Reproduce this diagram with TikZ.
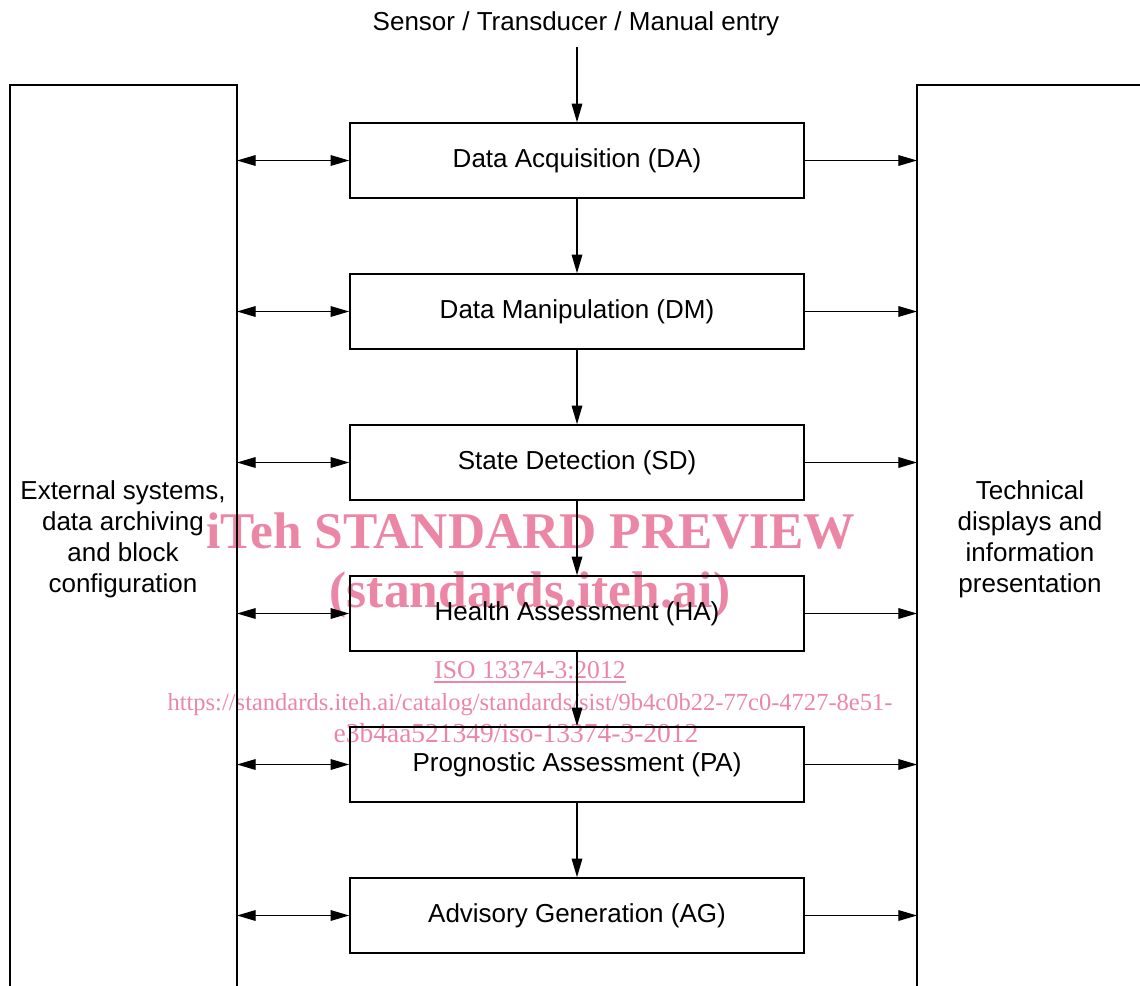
\documentclass[tikz,border=0pt]{standalone}
\usepackage{fontspec}
\setmainfont{Liberation Sans}
\newfontfamily\wmfont{Liberation Serif}
\usepackage{tikz}
\usetikzlibrary{arrows.meta}

\definecolor{wmpink}{RGB}{236,134,166}

\tikzset{
  blktip/.tip={Triangle[length=14pt,width=8pt]},
  blk/.style={draw, line width=1.2pt, minimum width=340.5pt, minimum height=56.25pt, inner sep=0pt, font=\fontsize{19.5}{23}\selectfont},
  lbl/.style={inner sep=0.75pt, font=\fontsize{19.5}{23.25}\selectfont, align=center},
  flow/.style={line width=0.9pt, -blktip},
  wm/.style={inner sep=0pt, text=wmpink},
}

\begin{document}
\begin{tikzpicture}[x=0.75pt,y=0.75pt,yscale=-1,xscale=1]
\useasboundingbox (0,0) rectangle (1140,986);

% watermark text
\node [wm, font=\wmfont\bfseries\fontsize{38.6}{40}\selectfont, anchor=base] (wm1) at (531,548) {iTeh STANDARD PREVIEW};
\node [wm, font=\wmfont\bfseries\fontsize{38.6}{40}\selectfont, anchor=base] (wm2) at (530,607) {(standards.iteh.ai)};
\node [wm, font=\wmfont\fontsize{19.2}{21}\selectfont, anchor=base] (wm3) at (530,678) {ISO 13374-3:2012};
\draw [wmpink, line width=0.9pt] ([yshift=3pt]wm3.base west) -- ([yshift=3pt]wm3.base east);
\node [wm, font=\wmfont\fontsize{18.4}{21}\selectfont, anchor=base] (wm4) at (530,710) {https://standards.iteh.ai/catalog/standards/sist/9b4c0b22-77c0-4727-8e51-};
\node [wm, font=\wmfont\fontsize{20.6}{21}\selectfont, anchor=base] (wm5) at (516,742) {e3b4aa521349/iso-13374-3-2012};

% side boxes, open at the bottom
\draw [line width=1.2pt] (10,990) -- (10,85) -- (237,85) -- (237,990) ;
\draw [line width=1.2pt] (917,990) -- (917,85) -- (1150,85) ;
\coordinate (ext) at (237,85);
\coordinate (disp) at (917,85);

% Text Node
\node [lbl] (ext txt) at (123,539) {External systems,\\data archiving\\and block\\configuration};
% Text Node
\node [lbl] (disp txt) at (1030,539) {Technical\\displays and\\information\\presentation};
% Text Node
\node [lbl] (src) at (576,24) {Sensor / Transducer / Manual entry};
\coordinate (src end) at (577,47);

% processing blocks
\node [blk] (DA) at (577,160.5) {Data Acquisition (DA)};
\node [blk] (DM) at (577,311.5) {Data Manipulation (DM)};
\node [blk] (SD) at (577,462.5) {State Detection (SD)};
\node [blk] (HA) at (577,613.5) {Health Assessment (HA)};
\node [blk] (PA) at (577,764.5) {Prognostic Assessment (PA)};
\node [blk] (AG) at (577,915.5) {Advisory Generation (AG)};

% main flow
\draw [flow] (src end) -- (DA);
\draw [flow] (DA) -- (DM);
\draw [flow] (DM) -- (SD);
\draw [flow] (SD) -- (HA);
\draw [flow] (HA) -- (PA);
\draw [flow] (PA) -- (AG);

% links to the side boxes
\foreach \b in {DA,DM,SD,HA,PA,AG}{
  \draw [flow, blktip-blktip] (\b.west -| ext) -- (\b.west);
  \draw [flow] (\b.east) -- (\b.east -| disp);
}
\end{tikzpicture}
\end{document}
